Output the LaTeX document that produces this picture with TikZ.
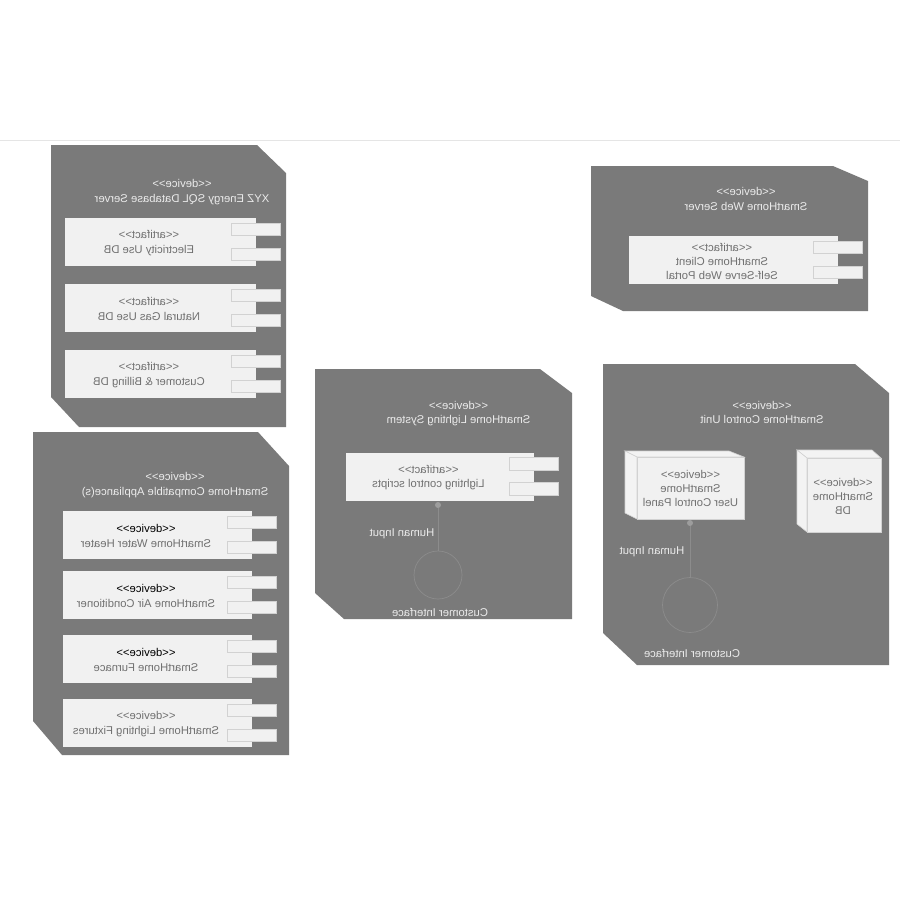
\documentclass[tikz,border=0pt]{standalone}
\usepackage{fontspec}
\setmainfont{Liberation Sans}
\definecolor{panelgray}{HTML}{7A7A7A}
\definecolor{boxgray}{HTML}{F1F1F1}
\definecolor{edgegray}{HTML}{D2D2D2}
\definecolor{inkgray}{HTML}{707070}
\definecolor{faintgray}{HTML}{8C8C8C}
\newcommand{\stereo}[1]{<{}<#1>{}>}
\tikzset{
  flip/.style={xscale=-1,yshift=-1pt,align=center,inner sep=0pt,font=\fontsize{11.3}{14.5}\selectfont},
  panel/.style={fill=panelgray,draw=none},
  paneltext/.style={flip,text=white!92!black},
  boxtext/.style={flip,text=inkgray},
  artifact/.style={fill=boxgray,minimum height=48pt,inner sep=0pt},
  port/.style={fill=boxgray,draw=edgegray,line width=.6pt,minimum width=49pt,minimum height=12.5pt,inner sep=0pt},
  face/.style={fill=boxgray!85!white,draw=edgegray,line width=.6pt},
  front/.style={fill=boxgray,draw=edgegray,line width=.6pt,inner sep=0pt},
  iface/.style={circle,draw=faintgray,line width=.7pt,inner sep=0pt},
  joint/.style={circle,fill=faintgray!85!white,minimum size=6pt,inner sep=0pt},
  wire/.style={draw=faintgray,line width=.8pt}
}
\begin{document}
\begin{tikzpicture}[x=1pt,y=-1pt]
  \useasboundingbox (0,0) rectangle (900,900);
  \coordinate (ruleL) at (0,140);
  \coordinate (ruleR) at (900,140);
  \draw[draw=black!10,line width=.8pt] (ruleL) -- (ruleR);

  % device panels
  \path[panel] (51,145) -- (257,145) -- (286,173) -- (286,427) -- (79,427) -- (51,397) -- cycle;
  \path[panel] (33,432) -- (258,432) -- (289,466) -- (289,755) -- (62,755) -- (33,721) -- cycle;
  \path[panel] (315,369) -- (540,369) -- (572,393) -- (572,619) -- (344,619) -- (315,593) -- cycle;
  \path[panel] (603,364) -- (855,364) -- (889,393) -- (889,665) -- (637,665) -- (603,633) -- cycle;
  \path[panel] (591,166) -- (833,166) -- (868,181) -- (868,311) -- (623,311) -- (591,296) -- cycle;

  \node[paneltext] (db_title) at (182,191) {\stereo{device}\\XYZ Energy SQL Database Server};
  \node[paneltext] (app_title) at (175,484) {\stereo{device}\\SmartHome Compatible Appliance(s)};
  \node[paneltext] (light_title) at (458.5,412.5) {\stereo{device}\\SmartHome Lighting System};
  \node[paneltext] (unit_title) at (762,411.5) {\stereo{device}\\SmartHome Control Unit};
  \node[paneltext] (web_title) at (746,198) {\stereo{device}\\SmartHome Web Server};

  % artifacts with their two ports
  \foreach \n/\y/\t in {a/242/Electricity Use DB, b/308/Natural Gas Use DB, c/374/Customer \& Billing DB} {
    \node[artifact,minimum width=191pt] (art_\n) at (160.5,\y) {};
    \node[boxtext] (art_\n_t) at ([xshift=-11.5pt]art_\n) {\stereo{artifact}\\\t};
    \node[port] (art_\n_p1) at ([yshift=12.5pt]art_\n.east) {};
    \node[port] (art_\n_p2) at ([yshift=-12.5pt]art_\n.east) {};
  }
  \foreach \n/\y/\t in {a/535/SmartHome Water Heater, b/595/SmartHome Air Conditioner, c/659/SmartHome Furnace} {
    \node[artifact,minimum width=189pt] (dev_\n) at (157.5,\y) {};
    \node[boxtext] (dev_\n_t) at ([xshift=-11.5pt]dev_\n) {\textcolor{black}{\stereo{device}}\\\t};
    \node[port] (dev_\n_p1) at ([yshift=12.5pt]dev_\n.east) {};
    \node[port] (dev_\n_p2) at ([yshift=-12.5pt]dev_\n.east) {};
  }
  \node[artifact,minimum width=189pt] (dev_d) at (157.5,723) {};
  \node[boxtext] (dev_d_t) at ([xshift=-11.5pt]dev_d) {\stereo{device}\\SmartHome Lighting Fixtures};
  \node[port] (dev_d_p1) at ([yshift=12.5pt]dev_d.east) {};
  \node[port] (dev_d_p2) at ([yshift=-12.5pt]dev_d.east) {};

  \node[artifact,minimum width=188pt] (scripts) at (440,476.5) {};
  \node[boxtext] (scripts_t) at ([xshift=-11.5pt]scripts) {\stereo{artifact}\\Lighting control scripts};
  \node[port] (scripts_p1) at ([yshift=12.5pt]scripts.east) {};
  \node[port] (scripts_p2) at ([yshift=-12.5pt]scripts.east) {};

  \node[artifact,minimum width=209pt] (portal) at (733.5,260) {};
  \node[boxtext,font=\fontsize{11.3}{14}\selectfont] (portal_t) at ([xshift=-11.5pt]portal) {\stereo{artifact}\\SmartHome Client\\Self-Serve Web Portal};
  \node[port] (portal_p1) at ([yshift=12.5pt]portal.east) {};
  \node[port] (portal_p2) at ([yshift=-12.5pt]portal.east) {};

  % nested devices
  \path[face] (637,457) -- (625,451) -- (729,451) -- (744,457) -- cycle;
  \path[face] (637,457) -- (625,451) -- (625,513) -- (637,519) -- cycle;
  \node[front,minimum width=107pt,minimum height=62pt] (panel_ui) at (690.5,488) {};
  \node[boxtext,font=\fontsize{11.3}{14}\selectfont] (panel_ui_t) at (690.5,487) {\stereo{device}\\SmartHome\\User Control Panel};
  \path[face] (807,458) -- (797,450) -- (872,450) -- (881,458) -- cycle;
  \path[face] (807,458) -- (797,450) -- (797,524) -- (807,532) -- cycle;
  \node[front,minimum width=74pt,minimum height=74pt] (home_db) at (844,495) {};
  \node[boxtext,font=\fontsize{11.3}{14}\selectfont] (home_db_t) at (843,495) {\stereo{device}\\SmartHome\\DB};

  % customer interfaces
  \node[iface,minimum size=48pt] (ci_light) at (438,575) {};
  \node[iface,minimum size=55pt] (ci_unit) at (690,605) {};
  \node[joint] (jt_light) at (438,505) {};
  \node[joint] (jt_unit) at (690,523) {};
  \draw[wire] (jt_light) -- (ci_light);
  \draw[wire] (jt_unit) -- (ci_unit);
  \node[paneltext] (hi_light) at (402,533) {Human Input};
  \node[paneltext] (hi_unit) at (652,551) {Human Input};
  \node[paneltext] (cl_light) at (440,611.5) {Customer Interface};
  \node[paneltext] (cl_unit) at (692,652) {Customer Interface};
\end{tikzpicture}
\end{document}
